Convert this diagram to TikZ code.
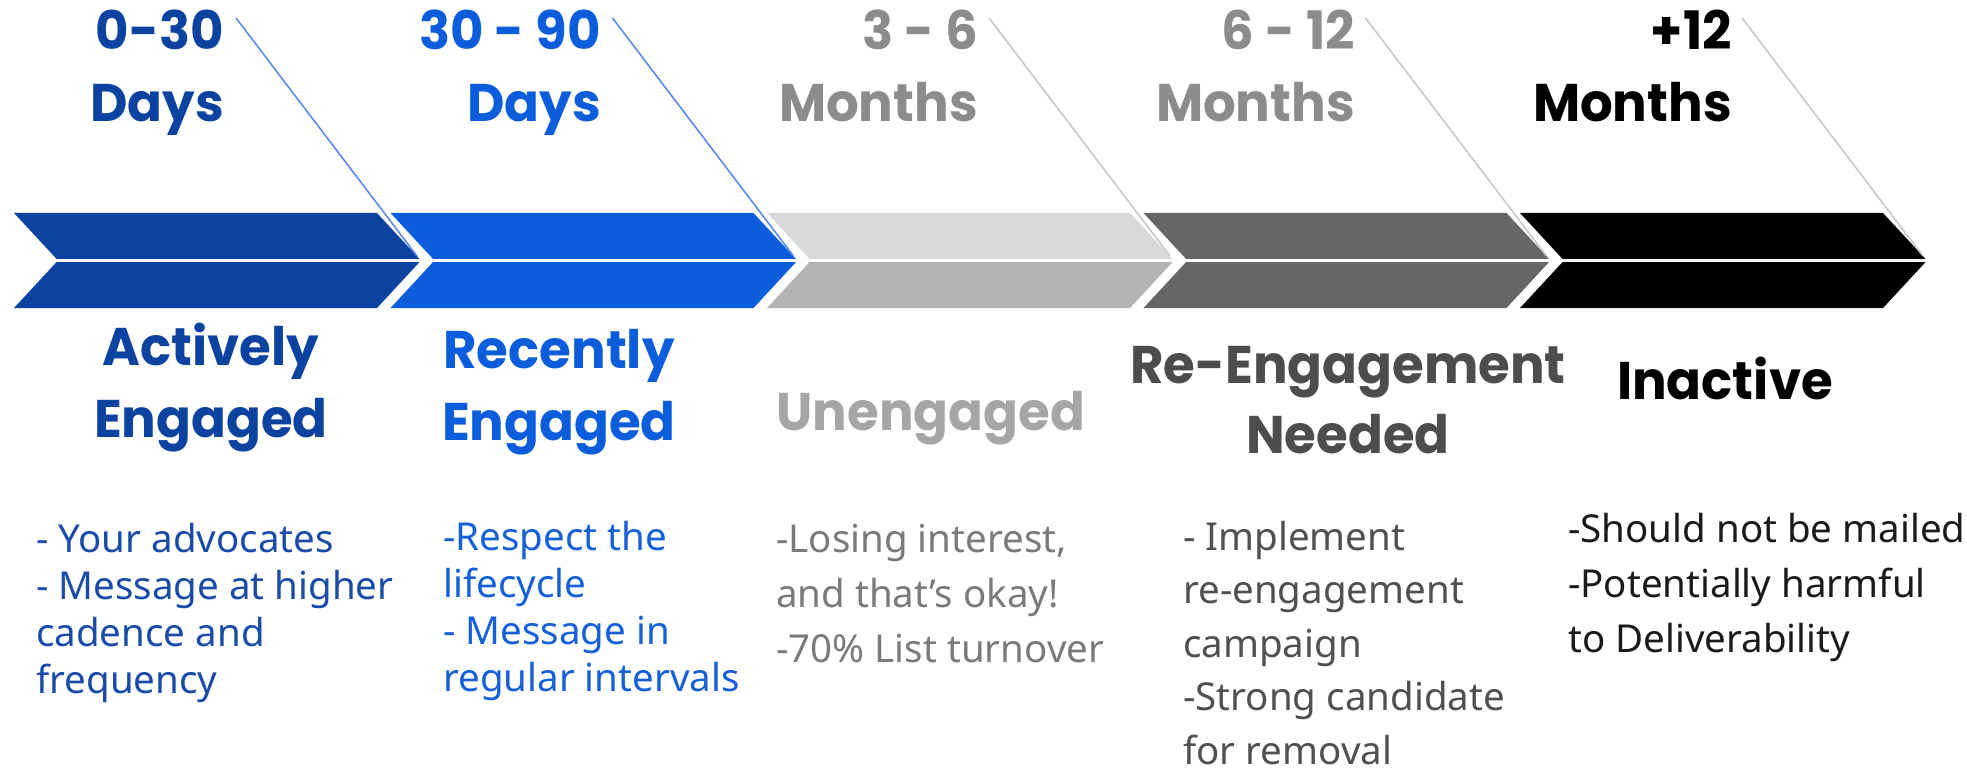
\documentclass[tikz,border=0pt]{standalone}
\usepackage{fontspec}
\setmainfont{Noto Sans}
\newfontfamily\popfont{Poppins}[FakeStretch=0.97]
\definecolor{cA}{HTML}{0D43A0}
\definecolor{cB}{HTML}{0C5DDB}
\definecolor{cCt}{HTML}{D9D9D9}
\definecolor{cCb}{HTML}{B4B4B4}
\definecolor{cD}{HTML}{666666}
\definecolor{cE}{HTML}{000000}
\definecolor{lblue}{HTML}{5A8BEB}
\definecolor{lgray}{HTML}{C8C8C8}
\definecolor{hgray}{HTML}{8C8C8C}
\definecolor{ungray}{HTML}{A6A6A6}
\definecolor{regray}{HTML}{4D4D4D}
\definecolor{tA}{HTML}{1A4BA8}
\definecolor{tB}{HTML}{1560D8}
\definecolor{tC}{HTML}{7A7A7A}
\definecolor{tD}{HTML}{505050}
\definecolor{tE}{HTML}{1A1A1A}
\begin{document}
\begin{tikzpicture}[x=1pt,y=-1pt,
  head/.style={font=\popfont\bfseries\fontsize{53}{60}\selectfont, inner sep=0pt},
  stage/.style={font=\popfont\bfseries\fontsize{53}{60}\selectfont, inner sep=0pt, anchor=base},
  body/.style={font=\fontsize{38.5}{46}\selectfont, inner sep=0pt, text depth=0pt, anchor=base west},
  conn/.style={line width=1.6pt}]
\useasboundingbox (0,0) rectangle (1967,778);

% chevrons
\foreach \i/\ct/\cb in {0/cA/cA, 1/cB/cB, 2/cCt/cCb, 3/cD/cD, 4/cE/cE} {
  \pgfmathsetmacro\L{14+376.5*\i}
  \fill[\ct] (\L,213) -- ++(363,0) -- ++(44,47.5) -- ++(-363,0) -- cycle;
  \fill[\cb] ({\L+44},260.5) -- ++(363,0) -- ++(-44,47.5) -- ++(-363,0) -- cycle;
  \coordinate (tip\i) at ({\L+403},256);
  \coordinate (ls\i) at ({236+376.5*\i},18);
}
\draw[white, line width=3pt] (0,260.5) -- (1967,260.5);

% connectors
\foreach \i/\lc in {0/lblue, 1/lblue, 2/lgray, 3/lgray, 4/lgray}
  \draw[conn, \lc] (ls\i) -- (tip\i);

% period headings
\node[head, cA, anchor=base east] (h0a) at (224,50) {0-30};
\node[head, cA, anchor=base east] (h0b) at (224,122) {Days};
\node[head, cB, anchor=base east] (h1a) at (601,50) {30 - 90};
\node[head, cB, anchor=base east] (h1b) at (601,122) {Days};
\node[head, hgray, anchor=base east] (h2a) at (978,50) {3 - 6};
\node[head, hgray, anchor=base east] (h2b) at (978,122) {Months};
\node[head, hgray, anchor=base east] (h3a) at (1355,50) {6 - 12};
\node[head, hgray, anchor=base east] (h3b) at (1355,122) {Months};
\node[head, black, anchor=base east] (h4a) at (1732,50) {+12};
\node[head, black, anchor=base east] (h4b) at (1732,122) {Months};

% stage names
\node[stage, cA] (s0a) at (211,365) {Actively};
\node[stage, cA] (s0b) at (211,437) {Engaged};
\node[stage, cB] (s1a) at (559,368) {Recently};
\node[stage, cB] (s1b) at (559,440) {Engaged};
\node[stage, ungray] (s2a) at (931,430) {Unengaged};
\node[stage, regray] (s3a) at (1348,383) {Re-Engagement};
\node[stage, regray] (s3b) at (1348,453) {Needed};
\node[stage, black] (s4a) at (1725,399) {Inactive};

% descriptions
\foreach \t [count=\k] in {- Your advocates, - Message at higher, cadence and, frequency}
  \node[body, tA] (bA\k) at (36,{552+47*(\k-1)}) {\t};
\foreach \t [count=\k] in {-Respect the, lifecycle, - Message in, regular intervals}
  \node[body, tB] (bB\k) at (443,{550+47*(\k-1)}) {\t};
\foreach \t [count=\k] in {{-Losing interest,}, and that’s okay!, -70\% List turnover}
  \node[body, tC] (bC\k) at (776,{552+55*(\k-1)}) {\t};
\foreach \t [count=\k] in {- Implement, re-engagement, campaign, -Strong candidate, for removal}
  \node[body, tD] (bD\k) at (1183,{550+53.5*(\k-1)}) {\t};
\foreach \t [count=\k] in {-Should not be mailed, -Potentially harmful, to Deliverability}
  \node[body, tE] (bE\k) at (1568,{542+55*(\k-1)}) {\t};
\end{tikzpicture}
\end{document}
